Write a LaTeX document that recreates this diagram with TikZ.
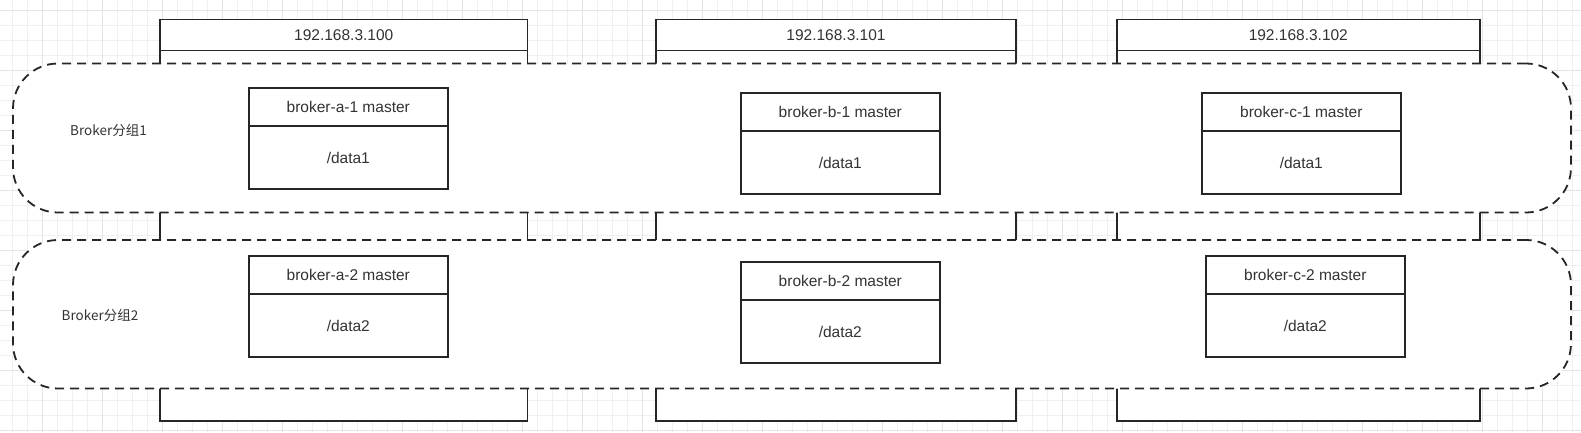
\documentclass[tikz,border=0pt]{standalone}
\usepackage{fontspec}
\setmainfont{Liberation Sans}
\newfontfamily\cjkfont{Noto Sans CJK SC}
\definecolor{linegray}{HTML}{262626}
\definecolor{textgray}{HTML}{333333}
\definecolor{gridminor}{HTML}{F0F0F0}
\definecolor{gridmajor}{HTML}{E4E4E4}

\begin{document}
\begin{tikzpicture}[x=1pt,y=-1pt,
    every node/.style={text=textgray,font=\fontsize{15.5}{18}\selectfont},
    host/.style={draw=linegray,line width=1.8pt,fill=white,inner sep=0pt,outer sep=0pt},
    iphead/.style={host,minimum height=31pt,anchor=north},
    group/.style={draw=linegray,line width=1.8pt,fill=white,dash pattern=on 9pt off 6pt,rounded corners=45pt},
    bhead/.style={draw=linegray,line width=1.8pt,fill=white,minimum width=199pt,minimum height=38pt,inner sep=0pt,outer sep=0pt,anchor=north},
    bbody/.style={bhead,minimum height=63pt},
    glabel/.style={font=\cjkfont\fontsize{13.5}{16}\selectfont}]
    \useasboundingbox[fill=white] (0,0) rectangle (1581,432);
    % grid
    \begin{scope}
      \clip (0,0) rectangle (1581,432);
      \foreach \gx in {0,...,105}
        \draw[gridminor,line width=1pt] ({12.7+15*\gx},0) -- ({12.7+15*\gx},432);
      \foreach \gy in {0,...,28}
        \draw[gridminor,line width=1pt] (0,{10+15*\gy}) -- (1581,{10+15*\gy});
      \foreach \gx in {0,...,26}
        \draw[gridmajor,line width=1pt] ({42.7+60*\gx},0) -- ({42.7+60*\gx},432);
      \foreach \gy in {0,...,7}
        \draw[gridmajor,line width=1pt] (0,{10+60*\gy}) -- (1581,{10+60*\gy});
    \end{scope}
    % hosts
    \node[host,minimum width=367.5pt,minimum height=401.2pt] (hosta) at (343.75,220.1) {};
    \node[host,minimum width=360pt,minimum height=401.2pt] (hostb) at (836,220.1) {};
    \node[host,minimum width=363.3pt,minimum height=401.2pt] (hostc) at (1298.3,220.1) {};
    \node[iphead,minimum width=367.5pt] (ipa) at (hosta.north) {192.168.3.100};
    \node[iphead,minimum width=360pt] (ipb) at (hostb.north) {192.168.3.101};
    \node[iphead,minimum width=363.3pt] (ipc) at (hostc.north) {192.168.3.102};
    % broker groups
    \node[group,minimum width=1558pt,minimum height=149pt] (grp1) at (792,138) {};
    \node[group,minimum width=1558pt,minimum height=148.5pt] (grp2) at (792,314.25) {};
    \node[glabel] (lbl1) at (108.5,130) {Broker分组1};
    \node[glabel] (lbl2) at (100,315) {Broker分组2};
    % brokers
    \node[bhead] (ba1) at (348.3,88) {broker-a-1 master};
    \node[bbody] (ba1d) at (ba1.south) {/data1};
    \node[bhead] (bb1) at (840.3,93) {broker-b-1 master};
    \node[bbody] (bb1d) at (bb1.south) {/data1};
    \node[bhead] (bc1) at (1301.3,93) {broker-c-1 master};
    \node[bbody] (bc1d) at (bc1.south) {/data1};
    \node[bhead] (ba2) at (348.3,256) {broker-a-2 master};
    \node[bbody] (ba2d) at (ba2.south) {/data2};
    \node[bhead] (bb2) at (840.3,262) {broker-b-2 master};
    \node[bbody] (bb2d) at (bb2.south) {/data2};
    \node[bhead] (bc2) at (1305.3,256) {broker-c-2 master};
    \node[bbody] (bc2d) at (bc2.south) {/data2};
  \end{tikzpicture}
\end{document}
